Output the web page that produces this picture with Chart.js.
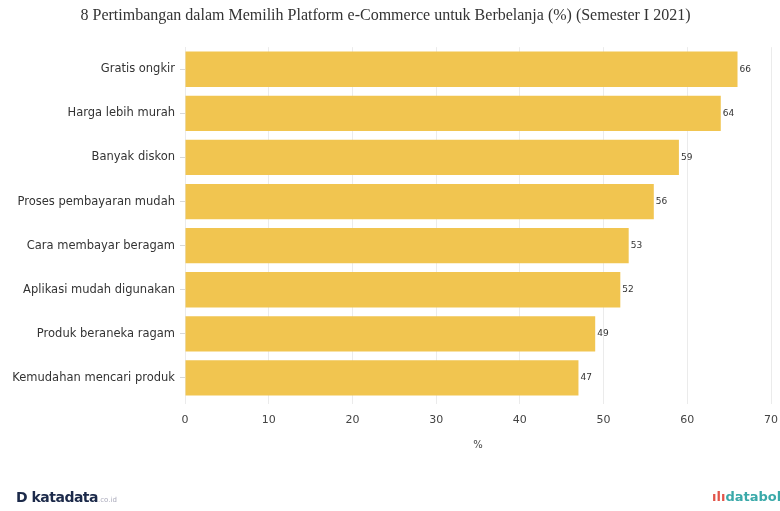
<!DOCTYPE html>
<html>
<head>
<meta charset="utf-8">
<script src="https://cdn.jsdelivr.net/npm/chart.js@4"></script>
<style>
  body { margin: 0; background: #fff; }
  #wrap { position: relative; width: 780px; height: 511px; }
  #katadata { position: absolute; left: 16px; top: 489px; font: bold 14px "DejaVu Sans", sans-serif; color: #1c2a4a; letter-spacing: -0.5px; }
  #katadata small { font-weight: normal; font-size: 7px; color: #aab; letter-spacing: 0; }
  #databoks { position: absolute; left: 712px; top: 489px; font: bold 13px "DejaVu Sans", sans-serif; color: #3aa9a9; white-space: nowrap; }
  #databoks span { color: #e2554a; }
</style>
</head>
<body>
<div id="wrap">
  <canvas id="chart" width="780" height="511"></canvas>
  <div id="katadata">D katadata<small>.co.id</small></div>
  <div id="databoks"><span>ılı</span>databoks</div>
</div>
<script>
const categories = [
  'Gratis ongkir',
  'Harga lebih murah',
  'Banyak diskon',
  'Proses pembayaran mudah',
  'Cara membayar beragam',
  'Aplikasi mudah digunakan',
  'Produk beraneka ragam',
  'Kemudahan mencari produk'
]
const values = [66, 64, 59, 56, 53, 52, 49, 47]
const chartTitle = '8 Pertimbangan dalam Memilih Platform e-Commerce untuk Berbelanja (%) (Semester I 2021)'

// little numbers at the end of each bar
const barLabels = {
  id: 'barLabels',
  afterDatasetsDraw(chart) {
    const ctx = chart.ctx
    const meta = chart.getDatasetMeta(0)
    ctx.save()
    ctx.font = '9px "DejaVu Sans", sans-serif'
    ctx.fillStyle = '#333'
    ctx.textBaseline = 'middle'
    meta.data.forEach((bar, i) => {
      ctx.fillText(values[i], bar.x + 2, bar.y)
    })
    ctx.restore()
  }
}

const data = {
  labels: categories,
  datasets: [{
    data: values,
    backgroundColor: 'rgb(241, 197, 80)',
    barPercentage: 0.8,
    categoryPercentage: 1
  }]
}

const config = {
  type: 'bar',
  data: data,
  options: {
    indexAxis: 'y',
    responsive: false,
    animation: false,
    layout: { padding: { top: 2, right: 9, bottom: 56, left: 0 } },
    plugins: {
      legend: { display: false },
      tooltip: { enabled: false },
      title: {
        display: true,
        text: chartTitle,
        color: '#333',
        font: { family: '"Liberation Serif", serif', size: 16, weight: 'normal' },
        padding: { top: 4, bottom: 22 }
      }
    },
    scales: {
      x: {
        min: 0,
        max: 70,
        ticks: {
          stepSize: 10,
          color: '#444',
          padding: 10,
          font: { family: '"DejaVu Sans", sans-serif', size: 11 }
        },
        grid: { color: '#ebebeb', tickLength: 4 },
        border: { display: false },
        title: {
          display: true,
          text: '%',
          color: '#444',
          font: { family: '"DejaVu Sans", sans-serif', size: 10 },
          padding: { top: 6 }
        },
        afterFit(scale) {
          scale.height = 55
          scale.paddingLeft = 0
          scale.paddingRight = 0
        }
      },
      y: {
        ticks: {
          color: '#333',
          padding: 5,
          font: { family: '"DejaVu Sans", sans-serif', size: 11.5 }
        },
        grid: { drawOnChartArea: false, offset: false, tickLength: 5, color: '#d8d8d8' },
        border: { color: '#ebebeb' },
        afterFit(scale) { scale.width = 185 }
      }
    }
  },
  plugins: [barLabels]
}

const chart = new Chart(document.getElementById('chart'), config)
</script>
</body>
</html>
